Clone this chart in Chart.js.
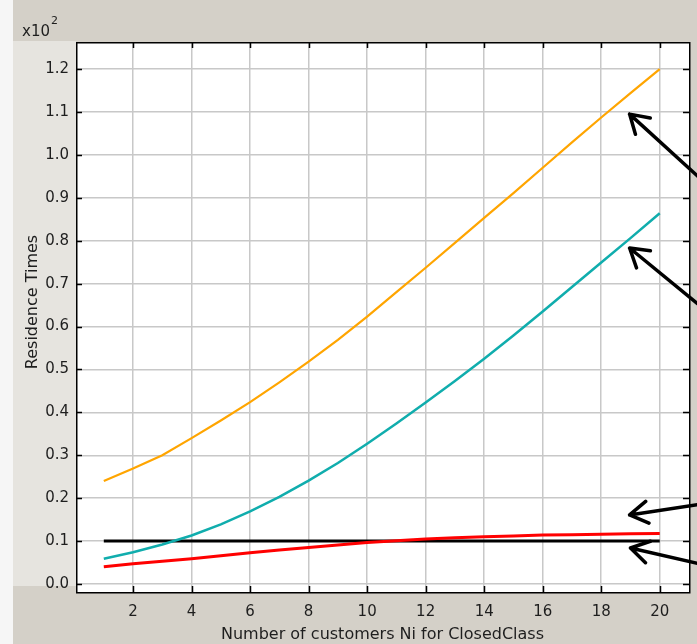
<!DOCTYPE html>
<html lang="en">
<head>
  <meta charset="UTF-8" />
  <title>Residence Times</title>
  <script src="https://cdn.jsdelivr.net/npm/chart.js"></script>
  <style>
    html, body { margin: 0; padding: 0; background: #ffffff; }
    .chart-container {
      width: 697px;
      height: 644px;
      position: relative;
    }
  </style>
</head>
<body>
  <div class="chart-container">
    <canvas id="residenceChart"></canvas>
  </div>

  <script>
    // Number of customers Ni for ClosedClass
    const customers = [1, 2, 3, 4, 5, 6, 7, 8, 9, 10, 11, 12, 13, 14, 15, 16, 17, 18, 19, 20];

    // Residence times (real units, axis shows them x10^2)
    const orangeTimes = [24.0, 26.9, 30.0, 34.0, 38.1, 42.4, 47.0, 51.8, 56.9, 62.3,
                         68.0, 73.7, 79.5, 85.3, 91.1, 97.0, 102.9, 108.7, 114.4, 120.0];
    const tealTimes   = [5.9, 7.4, 9.2, 11.3, 13.9, 16.9, 20.3, 24.1, 28.2, 32.7,
                         37.4, 42.3, 47.3, 52.5, 57.9, 63.5, 69.2, 74.9, 80.6, 86.4];
    const redTimes    = [4.0, 4.7, 5.3, 5.9, 6.6, 7.3, 7.9, 8.5, 9.1, 9.7,
                         10.1, 10.5, 10.8, 11.0, 11.2, 11.4, 11.5, 11.6, 11.7, 11.8];
    const blackTimes  = [10.0, 10.0, 10.0, 10.0, 10.0, 10.0, 10.0, 10.0, 10.0, 10.0,
                         10.0, 10.0, 10.0, 10.0, 10.0, 10.0, 10.0, 10.0, 10.0, 10.0];

    // tick values
    const xTicks = [2, 4, 6, 8, 10, 12, 14, 16, 18, 20];
    const yTicks = [0, 10, 20, 30, 40, 50, 60, 70, 80, 90, 100, 110, 120];

    // pointer arrows on the right, in data units: [tipX, tipY, tailX, tailY]
    const arrows = [
      [18.97, 109.5, 21.3, 95.0],
      [18.97, 78.3, 21.3, 65.3],
      [18.97, 16.1, 21.3, 18.5],
      [19.0, 8.4, 21.3, 4.8]
    ];

    const FONT = "'DejaVu Sans', sans-serif";
    const TEXT = "#1e1e1e";

    function toPoints(values) {
      return customers.map((x, i) => ({ x: x, y: values[i] }));
    }

    // background panels + frame, ticks, arrows, extra labels
    const decorations = {
      id: "decorations",
      beforeDraw(chart) {
        const { ctx, chartArea: a } = chart;
        ctx.save();
        ctx.fillStyle = "#d4d0c8";
        ctx.fillRect(0, 0, chart.width, chart.height);
        ctx.fillStyle = "#f6f6f6";
        ctx.fillRect(0, 0, 13, chart.height);
        ctx.fillStyle = "#e6e4df";
        ctx.fillRect(13, 41, a.left - 13, 545);
        ctx.fillStyle = "#ffffff";
        ctx.fillRect(a.left, a.top, a.right - a.left, a.bottom - a.top);
        ctx.restore();
      },
      afterDraw(chart) {
        const { ctx, chartArea: a, scales } = chart;
        ctx.save();

        // inward tick marks on all four sides
        ctx.strokeStyle = "#000";
        ctx.lineWidth = 1.5;
        ctx.beginPath();
        xTicks.forEach((v) => {
          const px = Math.round(scales.x.getPixelForValue(v)) + 0.5;
          ctx.moveTo(px, a.bottom); ctx.lineTo(px, a.bottom - 6);
          ctx.moveTo(px, a.top); ctx.lineTo(px, a.top + 6);
        });
        yTicks.forEach((v) => {
          const py = Math.round(scales.y.getPixelForValue(v)) + 0.5;
          ctx.moveTo(a.left, py); ctx.lineTo(a.left + 6, py);
          ctx.moveTo(a.right, py); ctx.lineTo(a.right - 6, py);
        });
        ctx.stroke();

        // frame
        ctx.strokeRect(a.left + 0.75, a.top + 0.75, a.right - a.left, a.bottom - a.top);

        // arrows
        ctx.lineWidth = 3.5;
        ctx.lineCap = "round";
        ctx.lineJoin = "round";
        arrows.forEach(([tx, ty, sx, sy]) => {
          const x1 = scales.x.getPixelForValue(tx), y1 = scales.y.getPixelForValue(ty);
          const x2 = scales.x.getPixelForValue(sx), y2 = scales.y.getPixelForValue(sy);
          const ang = Math.atan2(y2 - y1, x2 - x1);
          const len = 21, spread = 0.55;
          ctx.beginPath();
          ctx.moveTo(x2, y2); ctx.lineTo(x1, y1);
          ctx.moveTo(x1 + len * Math.cos(ang - spread), y1 + len * Math.sin(ang - spread));
          ctx.lineTo(x1, y1);
          ctx.lineTo(x1 + len * Math.cos(ang + spread), y1 + len * Math.sin(ang + spread));
          ctx.stroke();
        });

        // y axis title
        ctx.fillStyle = TEXT;
        ctx.font = "16px " + FONT;
        ctx.textAlign = "center";
        ctx.textBaseline = "middle";
        ctx.translate(33, 302);
        ctx.rotate(-Math.PI / 2);
        ctx.fillText("Residence Times", 0, 0);
        ctx.setTransform(1, 0, 0, 1, 0, 0);

        // x10^2 multiplier
        ctx.textAlign = "left";
        ctx.textBaseline = "alphabetic";
        ctx.font = "15px " + FONT;
        ctx.fillText("x10", 22, 36);
        ctx.font = "11px " + FONT;
        ctx.fillText("2", 51, 24);

        ctx.restore();
      }
    };

    const gridStyle = { color: "#c8c8c8", lineWidth: 1.5, drawTicks: false };

    new Chart(document.getElementById("residenceChart"), {
      type: "line",
      data: {
        datasets: [
          { label: "Orange", data: toPoints(orangeTimes), borderColor: "#ffa500", borderWidth: 2.2 },
          { label: "Teal", data: toPoints(tealTimes), borderColor: "#10adad", borderWidth: 2.5 },
          { label: "Red", data: toPoints(redTimes), borderColor: "#ff0000", borderWidth: 3 },
          { label: "Black", data: toPoints(blackTimes), borderColor: "#000000", borderWidth: 3 }
        ]
      },
      options: {
        responsive: true,
        maintainAspectRatio: false,
        animation: false,
        devicePixelRatio: 1,
        layout: { padding: { top: 42, right: 8, left: 0, bottom: 0 } },
        elements: {
          point: { radius: 0 },
          line: { tension: 0, fill: false }
        },
        plugins: {
          legend: { display: false },
          tooltip: { enabled: false }
        },
        scales: {
          x: {
            type: "linear",
            min: 0.05,
            max: 21,
            afterBuildTicks: (s) => { s.ticks = xTicks.map((v) => ({ value: v })); },
            afterFit: (s) => { s.height = 52; },
            grid: gridStyle,
            border: { display: false },
            ticks: {
              padding: 11,
              color: TEXT,
              font: { family: FONT, size: 15 },
              maxRotation: 0,
              autoSkip: false,
              callback: (v) => String(v)
            },
            title: {
              display: true,
              text: "Number of customers Ni for ClosedClass",
              color: TEXT,
              font: { family: FONT, size: 16 },
              padding: { top: 0, bottom: 0 }
            }
          },
          y: {
            type: "linear",
            min: -1.86,
            max: 126.3,
            afterBuildTicks: (s) => { s.ticks = yTicks.map((v) => ({ value: v })); },
            afterFit: (s) => { s.width = 76; },
            grid: gridStyle,
            border: { display: false },
            ticks: {
              padding: 7,
              color: TEXT,
              font: { family: FONT, size: 15 },
              callback: (v) => (v / 100).toFixed(1)
            }
          }
        }
      },
      plugins: [decorations]
    });
  </script>
</body>
</html>
